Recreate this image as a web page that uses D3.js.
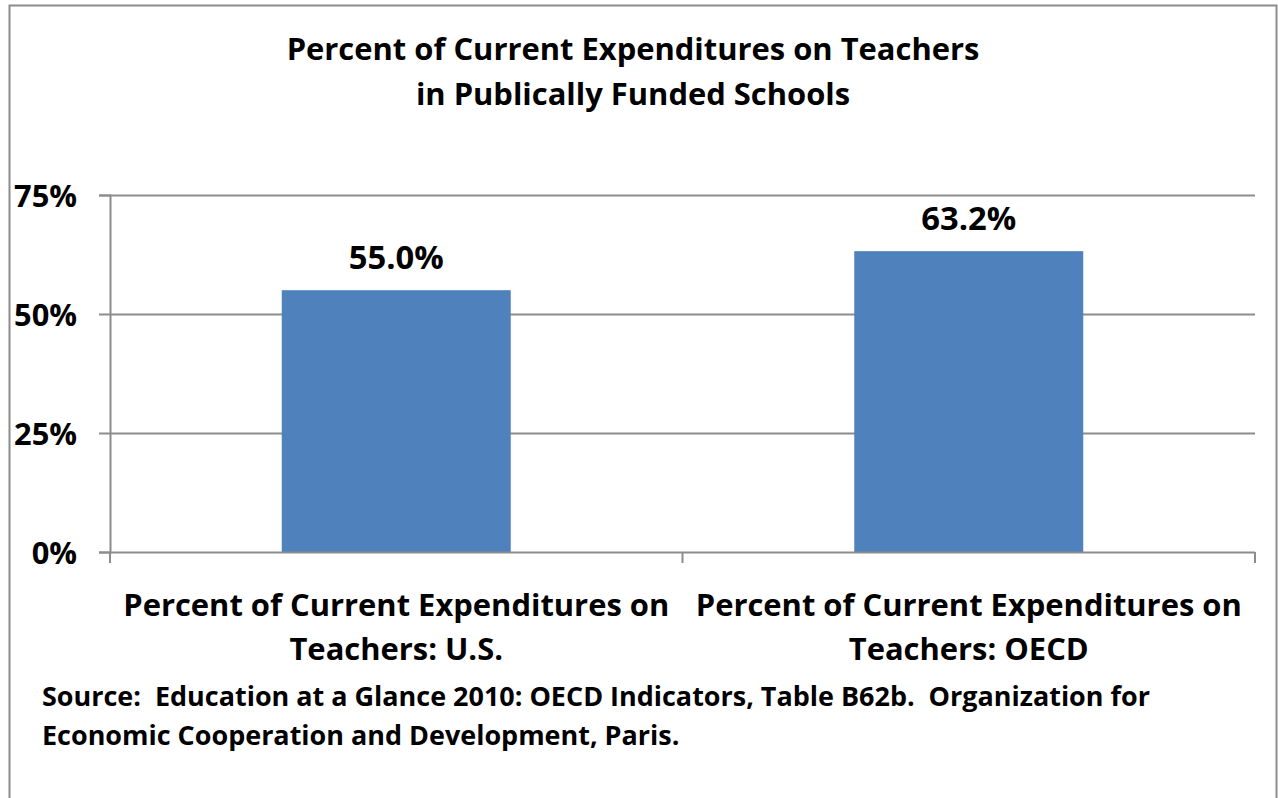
<!DOCTYPE html>
<meta charset="utf-8">
<style>
  body { margin: 0; background: #fff; }
  text { font-family: "Open Sans", Lato, sans-serif; font-weight: bold; fill: #000; white-space: pre; }
</style>
<body>
<script src="https://cdn.jsdelivr.net/npm/d3@7"></script>
<script>

// chart data
var categories = ["Percent of Current Expenditures on Teachers: U.S.",
                  "Percent of Current Expenditures on Teachers: OECD"];
var catLines = [["Percent of Current Expenditures on", "Teachers: U.S."],
                ["Percent of Current Expenditures on", "Teachers: OECD"]];
var values = [0.550, 0.632];
var yTicks = [0, 0.25, 0.5, 0.75];
var titleLines = ["Percent of Current Expenditures on Teachers", "in Publically Funded Schools"];
var sourceLines = ["Source:  Education at a Glance 2010: OECD Indicators, Table B62b.  Organization for",
                   "Economic Cooperation and Development, Paris."];

var W = 1278, H = 798;
var plot = {left: 110, right: 1255, top: 195, bottom: 552};

var svg = d3.select("body").append("svg")
    .attr("width", W)
    .attr("height", H);

// scale a text's font so that a measured element comes out at the wanted width
function fit(textSel, measureNode, target) {
  var fs = parseFloat(textSel.style("font-size"));
  var w = measureNode.getComputedTextLength();
  textSel.style("font-size", (fs * target / w).toFixed(2) + "px");
}

// outer frame (bottom edge runs off the picture)
svg.append("rect")
    .attr("x", 9.5).attr("y", 5.5)
    .attr("width", 1267).attr("height", 820)
    .attr("fill", "none")
    .attr("stroke", "#8c8c8c")
    .attr("stroke-width", 2);

var x = d3.scaleBand()
    .domain(categories)
    .range([plot.left, plot.right])
    .paddingInner(0.6)
    .paddingOuter(0.3);

var y = d3.scaleLinear()
    .domain([0, 0.75])
    .range([plot.bottom, plot.top]);

// gridlines
svg.append("g").selectAll("line")
    .data(yTicks.slice(1))
  .enter().append("line")
    .attr("x1", plot.left).attr("x2", plot.right)
    .attr("y1", function(d) { return Math.round(y(d)) + 0.5; })
    .attr("y2", function(d) { return Math.round(y(d)) + 0.5; })
    .attr("stroke", "#8c8c8c")
    .attr("stroke-width", 2);

// bars
svg.append("g").selectAll("rect")
    .data(values)
  .enter().append("rect")
    .attr("x", function(d, i) { return x(categories[i]); })
    .attr("width", x.bandwidth())
    .attr("y", function(d) { return y(d); })
    .attr("height", function(d) { return y(0) - y(d); })
    .attr("fill", "#4f81bd");

// value labels
var vals = svg.append("g").selectAll("text")
    .data(values)
  .enter().append("text")
    .attr("x", function(d, i) { return x(categories[i]) + x.bandwidth() / 2; })
    .attr("y", function(d) { return y(d) - 21; })
    .attr("text-anchor", "middle")
    .style("font-size", "30px")
    .text(function(d) { return d3.format(".1%")(d); });
vals.each(function() { fit(d3.select(this), this, 95); });

// y axis
var yAxis = svg.append("g")
    .attr("transform", "translate(" + plot.left + ",0)")
    .call(d3.axisLeft(y).tickValues(yTicks).tickFormat(d3.format(".0%")).tickSizeOuter(0).tickSize(11).tickPadding(22));
yAxis.select(".domain").attr("stroke", "#8c8c8c").attr("stroke-width", 2);
yAxis.selectAll(".tick line").attr("stroke", "#8c8c8c").attr("stroke-width", 2);
var yLabels = yAxis.selectAll(".tick text")
    .attr("fill", "#000")
    .style("font-size", "30px")
    .attr("dy", "0.36em");
var sample = yLabels.filter(function(d) { return d === 0.75; });
var ySize = parseFloat(sample.style("font-size")) * 63 / sample.node().getComputedTextLength();
yLabels.style("font-size", ySize + "px");
yAxis.attr("font-family", null).attr("font-size", null);

// x axis: ticks at category boundaries
var xAxisG = svg.append("g");
xAxisG.append("line")
    .attr("x1", plot.left).attr("x2", plot.right)
    .attr("y1", plot.bottom + 0.5).attr("y2", plot.bottom + 0.5)
    .attr("stroke", "#8c8c8c").attr("stroke-width", 2);
var bounds = [plot.left].concat(categories.map(function(c) { return x(c) + x.bandwidth() + x.step() * 0.3; }));
xAxisG.selectAll(".tk")
    .data(bounds)
  .enter().append("line")
    .attr("x1", function(d) { return d; }).attr("x2", function(d) { return d; })
    .attr("y1", plot.bottom).attr("y2", plot.bottom + 11)
    .attr("stroke", "#8c8c8c").attr("stroke-width", 2);

// category labels
categories.forEach(function(c, i) {
  var t = svg.append("text")
      .attr("text-anchor", "middle")
      .style("font-size", "30px");
  catLines[i].forEach(function(line, j) {
    t.append("tspan")
      .attr("x", x(c) + x.bandwidth() / 2)
      .attr("y", 616 + j * 44)
      .text(line);
  });
  fit(t, t.select("tspan").node(), 546);
});

// title
var title = svg.append("text")
    .attr("text-anchor", "middle")
    .style("font-size", "30px");
titleLines.forEach(function(line, j) {
  title.append("tspan")
    .attr("x", 633)
    .attr("y", 60 + j * 45)
    .text(line);
});
fit(title, title.select("tspan").node(), 693);

// source note
var src = svg.append("text")
    .style("font-size", "24px");
sourceLines.forEach(function(line, j) {
  src.append("tspan")
    .attr("x", 42)
    .attr("y", 706 + j * 39)
    .text(line);
});
fit(src, src.select("tspan").node(), 1108);

</script>
</body>
